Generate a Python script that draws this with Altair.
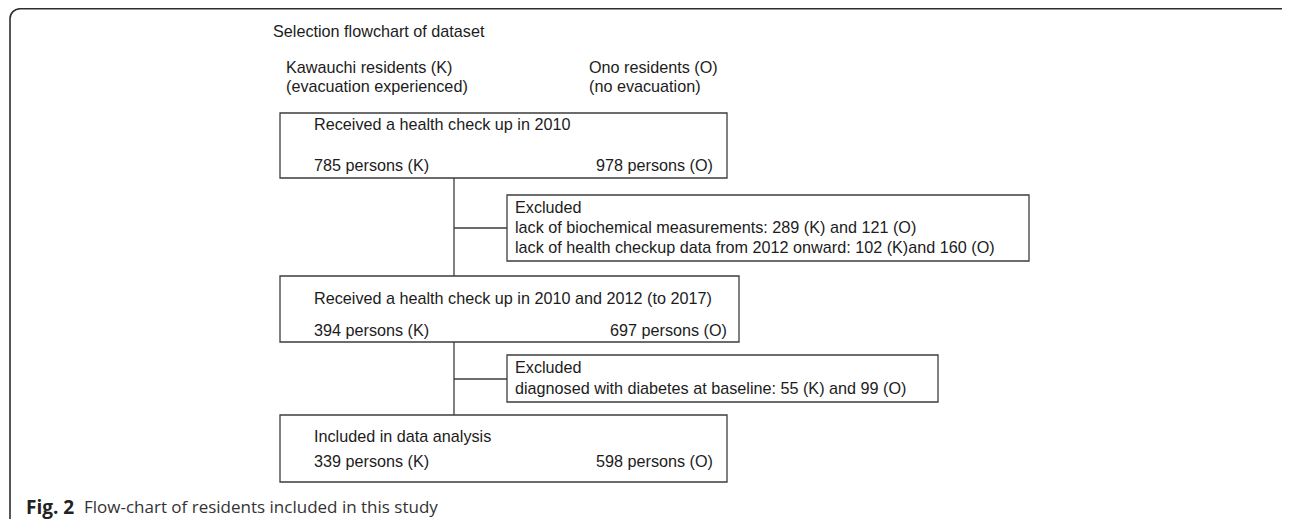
import altair as alt
import pandas as pd

# ---------------- content ----------------
title_text = "Selection flowchart of dataset"
group_k = ["Kawauchi residents (K)", "(evacuation experienced)"]
group_o = ["Ono residents (O)", "(no evacuation)"]
stage_titles = [
    "Received a health check up in 2010",
    "Received a health check up in 2010 and 2012 (to 2017)",
    "Included in data analysis",
]
k_persons = [785, 394, 339]
o_persons = [978, 697, 598]
excluded_1 = [
    "Excluded",
    "lack of biochemical measurements: 289 (K) and 121 (O)",
    "lack of health checkup data from 2012 onward: 102 (K)and 160 (O)",
]
excluded_2 = [
    "Excluded",
    "diagnosed with diabetes at baseline: 55 (K) and 99 (O)",
]
caption_bold = "Fig. 2"
caption_rest = "Flow-chart of residents included in this study"

# ---------------- layout (page pixels) ----------------
W, H = 1274, 511
title_pos = (273, 32)
group_k_pos = (286, [68, 87])
group_o_pos = (589, [68, 87])
stage_boxes = [(280, 113, 727, 178), (280, 276, 739, 342), (280, 415, 727, 482)]
stage_text_x = 314
stage_title_y = [125, 299, 437]
stage_count_y = [166, 331, 462]
stage_right_x = [713, 727, 713]
excl_boxes = [(507, 195, 1029, 261), (507, 355, 938, 402)]
excl_text_x = 515
excl_line_y = [[208, 228, 248], [368, 389]]
trunk_x = 454
trunk_y = (178, 415)
connector_y = [228, 379]
frame_box = (10, 8.75, 1300, 540)
caption_pos = (26, 84, 508)

xs = alt.Scale(domain=[8, 8 + W], nice=False, zero=False)
ys = alt.Scale(domain=[8, 8 + H], nice=False, zero=False, reverse=True)

def X(f="x"):
    return alt.X(f"{f}:Q", scale=xs, axis=None)

def Y(f="y"):
    return alt.Y(f"{f}:Q", scale=ys, axis=None)

LINE = "#3d3d3d"
TXT = "#1c1c1c"
FONT = "Liberation Sans"
FS = 16.2

# frame
frame_df = pd.DataFrame([dict(x=frame_box[0], y=frame_box[1], x2=frame_box[2], y2=frame_box[3])])
frame = alt.Chart(frame_df).mark_rect(
    fill="white", fillOpacity=0, stroke="#2e2e2e", strokeWidth=1.6, cornerRadius=10
).encode(x=X(), y=Y(), x2="x2:Q", y2="y2:Q")

# connectors
rules_rows = [dict(x=trunk_x, x2=trunk_x, y=trunk_y[0], y2=trunk_y[1])]
for cy, eb in zip(connector_y, excl_boxes):
    rules_rows.append(dict(x=trunk_x, x2=eb[0], y=cy, y2=cy))
rules = alt.Chart(pd.DataFrame(rules_rows)).mark_rule(color=LINE, strokeWidth=1.3).encode(
    x=X(), y=Y(), x2="x2:Q", y2="y2:Q"
)

# boxes
box_rows = [dict(x=b[0], y=b[1], x2=b[2], y2=b[3]) for b in stage_boxes + excl_boxes]
boxes = alt.Chart(pd.DataFrame(box_rows)).mark_rect(
    fill="white", stroke=LINE, strokeWidth=1.3
).encode(x=X(), y=Y(), x2="x2:Q", y2="y2:Q")

# left aligned texts
left_rows = [dict(t=title_text, x=title_pos[0], y=title_pos[1])]
for t, yy in zip(group_k, group_k_pos[1]):
    left_rows.append(dict(t=t, x=group_k_pos[0], y=yy))
for t, yy in zip(group_o, group_o_pos[1]):
    left_rows.append(dict(t=t, x=group_o_pos[0], y=yy))
for t, ty, k, cy in zip(stage_titles, stage_title_y, k_persons, stage_count_y):
    left_rows.append(dict(t=t, x=stage_text_x, y=ty))
    left_rows.append(dict(t=f"{k} persons (K)", x=stage_text_x, y=cy))
for lines, ly in zip([excluded_1, excluded_2], excl_line_y):
    for t, yy in zip(lines, ly):
        left_rows.append(dict(t=t, x=excl_text_x, y=yy))
left_text = alt.Chart(pd.DataFrame(left_rows)).mark_text(
    align="left", baseline="middle", font=FONT, fontSize=FS, color=TXT
).encode(x=X(), y=Y(), text="t:N")

right_rows = [dict(t=f"{o} persons (O)", x=rx, y=cy)
              for o, rx, cy in zip(o_persons, stage_right_x, stage_count_y)]
right_text = alt.Chart(pd.DataFrame(right_rows)).mark_text(
    align="right", baseline="middle", font=FONT, fontSize=FS, color=TXT
).encode(x=X(), y=Y(), text="t:N")

cap_b = alt.Chart(pd.DataFrame([dict(t=caption_bold, x=caption_pos[0], y=caption_pos[2])])).mark_text(
    align="left", baseline="middle", font="Open Sans", fontSize=19, fontWeight="bold", color="#222222"
).encode(x=X(), y=Y(), text="t:N")
cap_r = alt.Chart(pd.DataFrame([dict(t=caption_rest, x=caption_pos[1], y=caption_pos[2])])).mark_text(
    align="left", baseline="middle", font="Open Sans", fontSize=17, color="#333333"
).encode(x=X(), y=Y(), text="t:N")

chart = alt.layer(frame, rules, boxes, left_text, right_text, cap_b, cap_r).properties(
    width=W, height=H, padding=0, autosize=alt.AutoSizeParams(type="none")
).configure_view(stroke=None)

chart.save("out.html", embed_options={"renderer": "svg", "actions": False})
